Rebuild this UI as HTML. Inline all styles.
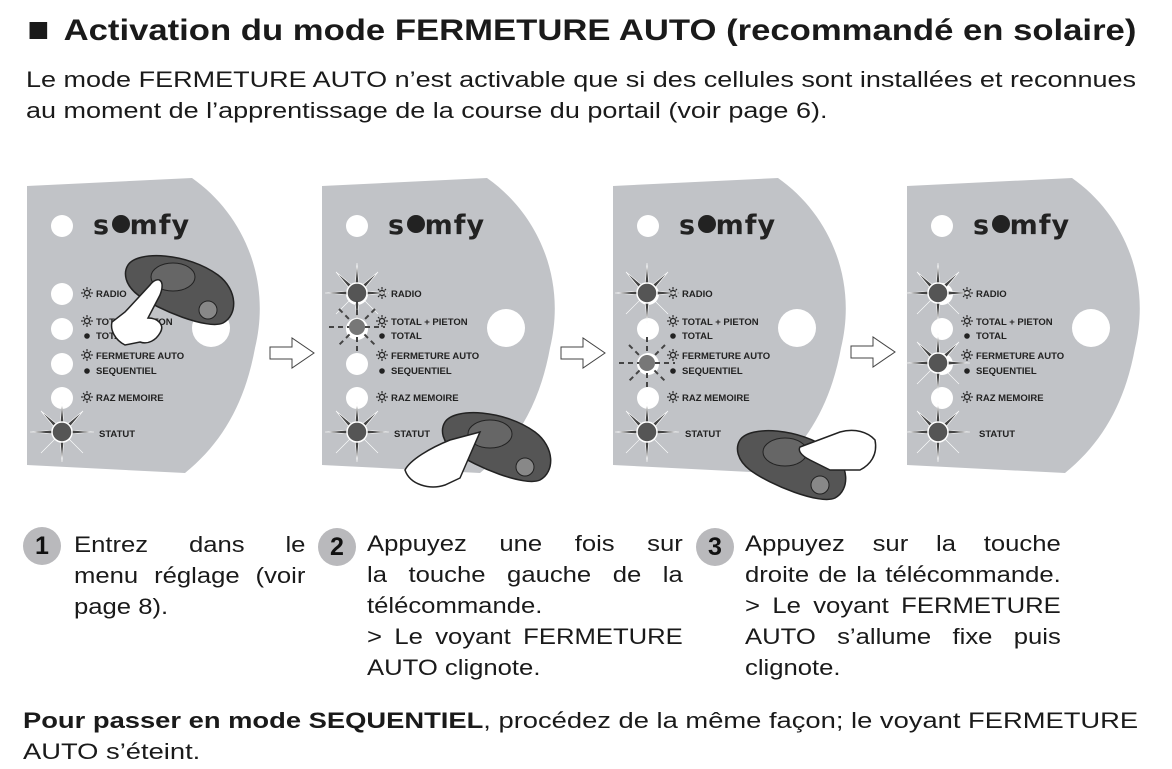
<!DOCTYPE html>
<html><head><meta charset="utf-8"><style>
body{margin:0;width:1172px;height:769px;background:#fff;position:relative;overflow:hidden;font-family:"Liberation Sans",Arial,sans-serif;color:#1a1a1a}
.t{position:absolute;white-space:nowrap;transform-origin:0 0}
.title{left:26px;top:14px;font-size:29.5px;font-weight:bold;transform:scaleX(1.175)}
.body{font-size:22.5px;line-height:31px;transform:scaleX(1.2)}
.col{position:absolute;font-size:22.5px;line-height:31px;transform:scaleX(1.14);transform-origin:0 0}
.col span{display:block;white-space:nowrap;height:31px}
.col span.j{text-align:justify;text-align-last:justify}
.badge{position:absolute;width:38px;height:38px;border-radius:50%;background:#b9b9bc;font-weight:bold;font-size:25px;text-align:center;line-height:38px;color:#111}
svg{position:absolute;left:0;top:0}
</style></head><body>
<div class="t title"><span style="display:inline-block;width:15px;height:17px;background:#1a1a1a;margin:0 14px 3px 3px;vertical-align:middle"></span>Activation du mode FERMETURE AUTO (recommandé en solaire)</div>
<div class="t body" style="left:26px;top:64px">Le mode FERMETURE AUTO n’est activable que si des cellules sont installées et reconnues<br>au moment de l’apprentissage de la course du portail (voir page 6).</div>

<svg width="1172" height="769" viewBox="0 0 1172 769">
<defs>
<g id="star">
<g fill="#444" stroke="#fff" stroke-width="0.6">
<polygon points="-2.5,0 0,-30 2.5,0"/><polygon points="-2.5,0 0,30 2.5,0"/>
<polygon points="0,-2.5 -32,0 0,2.5"/><polygon points="0,-2.5 32,0 0,2.5"/>
<polygon points="-2,2 -21,-21 2,-2"/><polygon points="-2,-2 21,21 2,2"/>
<polygon points="2,2 21,-21 -2,-2"/><polygon points="-2,2 -21,21 2,-2"/>
</g>
<circle r="10" fill="#555" stroke="#fff" stroke-width="1.5"/>
</g>
<g id="dstar">
<g stroke="#444" stroke-width="2" stroke-dasharray="5,4">
<line x1="0" y1="-26" x2="0" y2="26"/><line x1="-28" y1="0" x2="28" y2="0"/>
<line x1="-18" y1="-18" x2="18" y2="18"/><line x1="18" y1="-18" x2="-18" y2="18"/>
</g>
<circle r="8" fill="#777"/>
</g>
<g id="sun"><circle r="2.5" fill="none" stroke="#222" stroke-width="1.2"/><g stroke="#222" stroke-width="1.1"><line x1="0" y1="-6" x2="0" y2="-3.5"/><line x1="0" y1="6" x2="0" y2="3.5"/><line x1="-6" y1="0" x2="-3.5" y2="0"/><line x1="6" y1="0" x2="3.5" y2="0"/><line x1="-4" y1="-4" x2="-2.5" y2="-2.5"/><line x1="4" y1="4" x2="2.5" y2="2.5"/><line x1="4" y1="-4" x2="2.5" y2="-2.5"/><line x1="-4" y1="4" x2="-2.5" y2="2.5"/></g></g>
<g id="panel">
<path d="M0,8 L165,0 C215,35 245,100 228,170 C218,225 195,265 158,295 L0,287 Z" fill="#c1c3c7"/>
<g fill="#fff"><circle cx="35" cy="48" r="11"/><circle cx="35" cy="116" r="11"/><circle cx="35" cy="151" r="11"/><circle cx="35" cy="186" r="11"/><circle cx="35" cy="220" r="11"/><circle cx="184" cy="150" r="19"/></g>
<text x="66" y="56" font-size="27" font-weight="bold" fill="#222" letter-spacing="1" font-family="DejaVu Sans, sans-serif">s<tspan fill="#c1c3c7">o</tspan>mfy</text>
<circle cx="94" cy="46" r="9" fill="#222"/>
<g font-size="9.5" font-weight="bold" fill="#222" font-family="Liberation Sans Narrow, Liberation Sans, sans-serif">
<use href="#sun" x="60" y="115"/><text x="69" y="119">RADIO</text>
<use href="#sun" x="60" y="143"/><text x="69" y="147">TOTAL + PIETON</text>
<circle cx="60" cy="158" r="2.8" fill="#222"/><text x="69" y="161">TOTAL</text>
<use href="#sun" x="60" y="177"/><text x="69" y="181">FERMETURE AUTO</text>
<circle cx="60" cy="193" r="2.8" fill="#222"/><text x="69" y="196">SEQUENTIEL</text>
<use href="#sun" x="60" y="219"/><text x="69" y="223">RAZ MEMOIRE</text>
<text x="72" y="259">STATUT</text>
</g>
</g>
<g id="remote">
<path d="M0,10 C10,-5 60,-2 90,20 C110,35 110,60 95,68 C80,75 30,55 10,40 C-3,30 -5,18 0,10 Z" fill="#555" stroke="#222" stroke-width="1.5"/>
<ellipse cx="45" cy="22" rx="22" ry="14" fill="#666" stroke="#222"/>
<circle cx="80" cy="55" r="9" fill="#888" stroke="#222"/>
</g>
<g id="arrow"><path d="M0,-6 L22,-6 L22,-15 L44,0 L22,15 L22,6 L0,6 Z" fill="#fff" stroke="#444" stroke-width="1"/></g>
</defs>

<use href="#panel" x="27" y="178"/>
<use href="#panel" x="322" y="178"/>
<use href="#panel" x="613" y="178"/>
<use href="#panel" x="907" y="178"/>

<use href="#star" x="62" y="432"/>
<use href="#remote" x="128" y="255"/>
<path d="M150,285 C158,275 166,280 160,295 L148,318 C158,318 165,325 160,333 C156,340 148,345 140,342 L125,345 C115,340 110,330 112,322 L125,312 Z" fill="#fff" stroke="#222" stroke-width="1.5"/>

<use href="#star" x="357" y="293"/>
<use href="#dstar" x="357" y="327"/>
<use href="#star" x="357" y="432"/>
<use href="#remote" x="445" y="412"/>
<path d="M480,432 L450,440 C430,448 410,460 405,470 C410,485 430,490 445,485 L460,478 Z" fill="#fff" stroke="#222" stroke-width="1.5"/>

<use href="#star" x="647" y="293"/>
<use href="#dstar" x="647" y="363"/>
<use href="#star" x="647" y="432"/>
<use href="#remote" x="740" y="430"/>
<path d="M800,447 L840,432 C855,428 868,432 875,440 C878,455 870,465 860,470 L830,470 L810,460 C800,455 798,450 800,447 Z" fill="#fff" stroke="#222" stroke-width="1.5"/>

<use href="#star" x="938" y="293"/>
<use href="#star" x="938" y="363"/>
<use href="#star" x="938" y="432"/>

<use href="#arrow" x="270" y="353"/>
<use href="#arrow" x="561" y="353"/>
<use href="#arrow" x="851" y="352"/>
</svg>

<div class="badge" style="left:23px;top:527px">1</div>
<div class="col" style="left:74px;top:529px;width:203px"><span class="j">Entrez dans le</span><span class="j">menu réglage (voir</span><span>page 8).</span></div>
<div class="badge" style="left:318px;top:528px">2</div>
<div class="col" style="left:367px;top:528px;width:277px"><span class="j">Appuyez une fois sur</span><span class="j">la touche gauche de la</span><span>télécommande.</span><span class="j">&gt; Le voyant FERMETURE</span><span>AUTO clignote.</span></div>
<div class="badge" style="left:696px;top:528px">3</div>
<div class="col" style="left:745px;top:528px;width:277px"><span class="j">Appuyez sur la touche</span><span class="j">droite de la télécommande.</span><span class="j">&gt; Le voyant FERMETURE</span><span class="j">AUTO s’allume fixe puis</span><span>clignote.</span></div>

<div class="t body" style="left:23px;top:705px;transform:scaleX(1.215)"><b>Pour passer en mode SEQUENTIEL</b>, procédez de la même façon; le voyant FERMETURE<br>AUTO s’éteint.</div>
</body></html>
